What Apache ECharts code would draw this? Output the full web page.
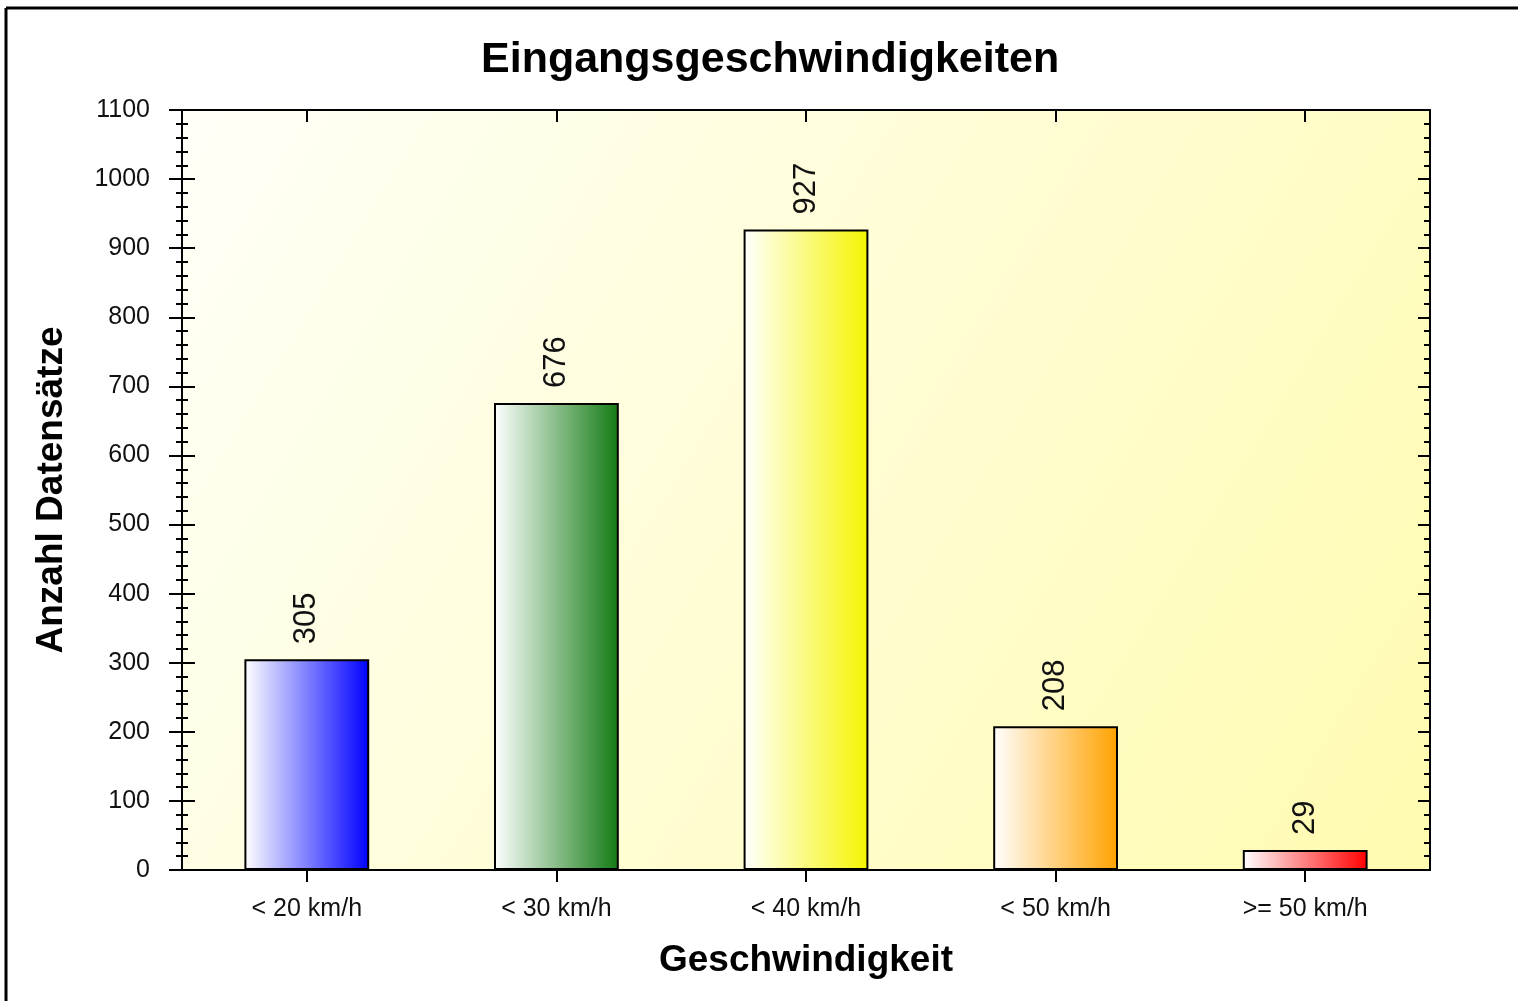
<!DOCTYPE html>
<html>
<head>
<meta charset="utf-8">
<script src="https://cdn.jsdelivr.net/npm/echarts@6/dist/echarts.min.js"></script>
<style>
html,body{margin:0;padding:0;background:#fff;}
#chart{width:1518px;height:1001px;}
</style>
</head>
<body>
<div id="chart"></div>
<script>
const categories = ['< 20 km/h', '< 30 km/h', '< 40 km/h', '< 50 km/h', '>= 50 km/h'];
const values = [305, 676, 927, 208, 29];
const barColors = ['#0000ff', '#137a13', '#f5f500', '#ffa200', '#ff0000'];
const titleText = 'Eingangsgeschwindigkeiten';
const xTitle = 'Geschwindigkeit';
const yTitle = 'Anzahl Datensätze';
const yMin = 0, yMax = 1100, yStep = 100;

const FONT = '"Liberation Sans", Arial, sans-serif';
const chart = echarts.init(document.getElementById('chart'), null, {renderer: 'canvas'});

const axisLine = {show: true, onZero: false, lineStyle: {color: '#000', width: 2}};
const grad = (c) => new echarts.graphic.LinearGradient(0, 0, 1, 0, [
  {offset: 0, color: '#ffffff'}, {offset: 1, color: c}
]);

function yAx(position, inside, len, showLabel, name) {
  return {
    type: 'value', position: position, min: yMin, max: yMax, interval: yStep,
    axisLine: axisLine,
    axisTick: {show: true, inside: inside, length: len, lineStyle: {color: '#000', width: 2}},
    minorTick: {show: true, splitNumber: 5, length: 6, lineStyle: {color: '#000', width: 2}},
    splitLine: {show: false}, minorSplitLine: {show: false},
    axisLabel: {show: showLabel, margin: 32, fontFamily: FONT, fontSize: 25, color: '#111',
      formatter: (v) => String(v)},
    name: name || '', nameLocation: 'middle', nameGap: 112, nameRotate: 90,
    nameTextStyle: {fontFamily: FONT, fontWeight: 'bold', fontSize: 37, color: '#000'}
  };
}
function xAx(position, inside, showLabel, name) {
  return {
    type: 'category', position: position, data: categories,
    axisLine: axisLine,
    axisTick: {show: true, inside: inside, length: 12, alignWithLabel: true, lineStyle: {color: '#000', width: 2}},
    splitLine: {show: false},
    axisLabel: {show: showLabel, margin: 27, fontFamily: FONT, fontSize: 25, color: '#111'},
    name: name || '', nameLocation: 'middle', nameGap: 72,
    nameTextStyle: {fontFamily: FONT, fontWeight: 'bold', fontSize: 37, color: '#000'}
  };
}

chart.setOption({
  animation: false,
  backgroundColor: '#ffffff',
  title: {
    text: titleText, left: 476, top: 34,
    textStyle: {fontFamily: FONT, fontWeight: 'bold', fontSize: 43, color: '#000'}
  },
  grid: {
    left: 182, right: 88, top: 110, bottom: 131, show: true, borderWidth: 0,
    backgroundColor: new echarts.graphic.LinearGradient(0, 0, 1, 1, [
      {offset: 0, color: '#fffff8'}, {offset: 1, color: '#fffbb0'}
    ])
  },
  xAxis: [
    xAx('bottom', false, true, xTitle),
    xAx('bottom', true, false),
    xAx('top', true, false)
  ],
  yAxis: [
    yAx('left', false, 13, true, yTitle),
    yAx('left', true, 13, false),
    yAx('right', true, 12, false)
  ],
  graphic: [
    {type: 'line', shape: {x1: 6, y1: 8, x2: 1518, y2: 8}, style: {stroke: '#000', lineWidth: 3}, silent: true},
    {type: 'line', shape: {x1: 6, y1: 8, x2: 6, y2: 1001}, style: {stroke: '#000', lineWidth: 3}, silent: true}
  ],
  series: [{
    type: 'bar', xAxisIndex: 0, yAxisIndex: 0, barWidth: '50%',
    data: values.map((v, i) => ({value: v, itemStyle: {color: grad(barColors[i])}})),
    itemStyle: {borderColor: '#000', borderWidth: 2},
    label: {
      show: true, position: 'top', rotate: 90, align: 'left', verticalAlign: 'middle',
      distance: 15, fontFamily: FONT, fontSize: 31, color: '#111'
    }
  }]
});
</script>
</body>
</html>
